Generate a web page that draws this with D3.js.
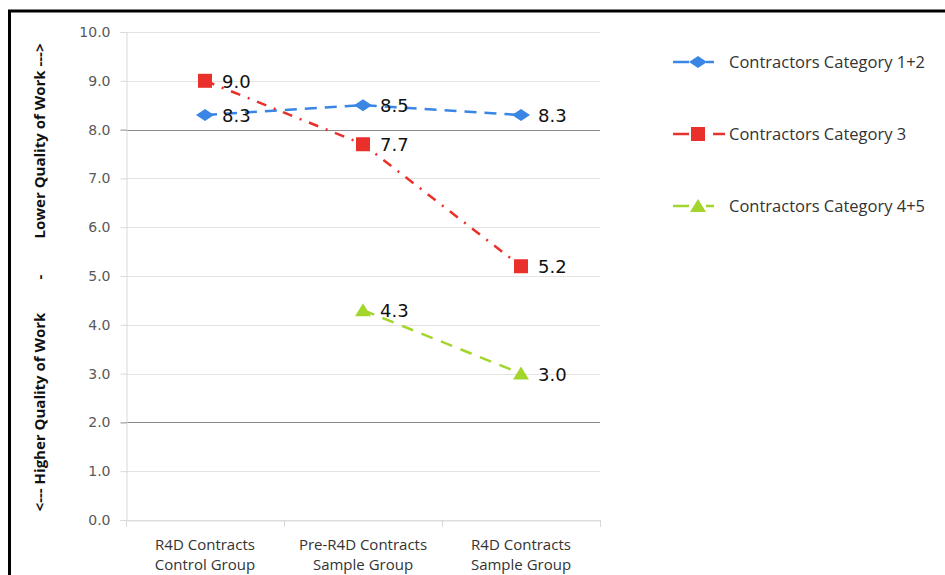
<!DOCTYPE html>
<html>
<head>
<meta charset="utf-8">
<script src="https://cdn.jsdelivr.net/npm/d3@7"></script>
<style>
  html, body { margin: 0; padding: 0; background: #fff; }
  svg { display: block; }
</style>
</head>
<body>
<svg id="chart" width="945" height="575"></svg>
<script>
// Contract groups along the x axis (two-line labels)
const categories = ["R4D Contracts|Control Group", "Pre-R4D Contracts|Sample Group", "R4D Contracts|Sample Group"];
// Average quality-of-work score per contractor category
const seriesNames = ["Contractors Category 1+2", "Contractors Category 3", "Contractors Category 4+5"];
const cat12 = [8.3, 8.5, 8.3];
const cat3 = [9.0, 7.7, 5.2];
const cat45 = [null, 4.3, 3.0];
const yTicks = [0, 1, 2, 3, 4, 5, 6, 7, 8, 9, 10];
const emphasisTicks = [2, 8];

const svg = d3.select("#chart");
const W = 945, H = 575;

const x = d3.scaleBand().domain(categories).range([126, 600]);
const y = d3.scaleLinear().domain([0, 10]).range([520, 32]);

// Frame border (top and left edges)
svg.append("path")
  .attr("d", `M9.5,${H + 2} L9.5,11 L${W + 2},11`)
  .attr("fill", "none").attr("stroke", "#000").attr("stroke-width", 3);

// Horizontal gridlines
const grid = svg.append("g");
grid.selectAll("line").data(yTicks).join("line")
  .attr("x1", 126).attr("x2", 600)
  .attr("y1", d => Math.round(y(d)) + 0.5).attr("y2", d => Math.round(y(d)) + 0.5)
  .attr("stroke", d => emphasisTicks.includes(d) ? "#8a8a8a" : "#e3e3e3")
  .attr("stroke-width", d => emphasisTicks.includes(d) ? 1.2 : 1);

// Y axis
const yAxis = svg.append("g").attr("transform", "translate(126.5,0)")
  .call(d3.axisLeft(y).tickValues(yTicks).tickFormat(d3.format(".1f")).tickSize(6).tickPadding(10));
yAxis.select(".domain").attr("stroke", "#d9d9d9");
yAxis.selectAll(".tick line").attr("stroke", d => emphasisTicks.includes(d) ? "#8a8a8a" : "#d9d9d9");
yAxis.selectAll(".tick text")
  .attr("fill", "#595959").attr("font-family", "DejaVu Sans").attr("font-size", 14);

// X axis
const xAxis = svg.append("g").attr("transform", "translate(0,520.5)")
  .call(d3.axisBottom(x).tickSize(0).tickFormat(""));
xAxis.select(".domain").attr("stroke", "#d9d9d9");
// Category boundary ticks
svg.append("g").selectAll("line")
  .data(categories.map(c => x(c)).concat([x.range()[1]]))
  .join("line")
  .attr("x1", d => Math.round(d) + 0.5).attr("x2", d => Math.round(d) + 0.5)
  .attr("y1", 520).attr("y2", 527)
  .attr("stroke", "#d9d9d9");
// Category labels
svg.append("g").selectAll("text").data(categories).join("text")
  .attr("x", d => x(d) + x.bandwidth() / 2)
  .attr("y", 550)
  .attr("text-anchor", "middle")
  .attr("font-family", "Open Sans").attr("font-size", 15).attr("fill", "#333")
  .each(function (d) {
    const parts = d.split("|");
    d3.select(this).selectAll("tspan").data(parts).join("tspan")
      .attr("x", x(d) + x.bandwidth() / 2)
      .attr("dy", (p, i) => i === 0 ? 0 : 20)
      .text(p => p);
  });

// Y axis title (rotated)
const yTitle = svg.append("g").attr("font-family", "Open Sans").attr("font-weight", "bold")
  .attr("font-size", 15).attr("fill", "#111");
[["<--- Higher Quality of Work", 412], ["-", 277], ["Lower Quality of Work --->", 141]].forEach(([t, cy]) => {
  yTitle.append("text")
    .attr("transform", `translate(45,${cy}) rotate(-90)`)
    .attr("text-anchor", "middle").text(t);
});

// Series definitions
const series = [
  { name: seriesNames[0], values: cat12, color: "#3a86e4", dash: "12,8", marker: "diamond" },
  { name: seriesNames[1], values: cat3, color: "#e9302a", dash: "10,8,2,8", marker: "square" },
  { name: seriesNames[2], values: cat45, color: "#a3d52c", dash: "12,9", marker: "triangle" }
];

const line = d3.line()
  .defined(d => d.v !== null)
  .x(d => x(d.c) + x.bandwidth() / 2)
  .y(d => y(d.v));

// Draw lines
series.forEach(s => {
  const pts = categories.map((c, i) => ({ c, v: s.values[i] }));
  svg.append("path").datum(pts)
    .attr("d", line)
    .attr("fill", "none")
    .attr("stroke", s.color).attr("stroke-width", 2.5)
    .attr("stroke-dasharray", s.dash);
});

// Markers and value labels
function markerPath(s) {
  if (s.marker === "diamond") return "M-9,0 L0,-6 L9,0 L0,6 Z";
  if (s.marker === "square") return "M-7,-7 L7,-7 L7,7 L-7,7 Z";
  return "M0,-7 L8,6 L-8,6 Z";
}
series.forEach(s => {
  const pts = categories.map((c, i) => ({ c, v: s.values[i] })).filter(d => d.v !== null);
  const g = svg.append("g");
  g.selectAll("path").data(pts).join("path")
    .attr("d", markerPath(s))
    .attr("transform", d => `translate(${x(d.c) + x.bandwidth() / 2},${y(d.v)})`)
    .attr("fill", s.color);
  g.selectAll("text").data(pts).join("text")
    .attr("x", d => x(d.c) + x.bandwidth() / 2 + 17)
    .attr("y", d => y(d.v) + 7)
    .attr("font-family", "DejaVu Sans").attr("font-size", 18).attr("fill", "#111")
    .text(d => d3.format(".1f")(d.v));
});

// Legend
const legend = svg.append("g");
const legendY = [62, 134, 206];
series.forEach((s, i) => {
  const ly = legendY[i];
  const lg = legend.append("g").attr("transform", `translate(0,${ly})`);
  lg.append("line").attr("x1", 673).attr("x2", 689).attr("y1", 0).attr("y2", 0)
    .attr("stroke", s.color).attr("stroke-width", 2.5);
  lg.append("line").attr("x1", i === 1 ? 713 : 706).attr("x2", i === 1 ? 725 : 714).attr("y1", 0).attr("y2", 0)
    .attr("stroke", s.color).attr("stroke-width", 2.5);
  lg.append("path").attr("d", markerPath(s)).attr("transform", "translate(698,0)")
    .attr("fill", s.color);
  lg.append("text").attr("x", 729).attr("y", 5.5)
    .attr("font-family", "Open Sans").attr("font-size", 16.5).attr("fill", "#333")
    .text(s.name);
});
</script>
</body>
</html>
